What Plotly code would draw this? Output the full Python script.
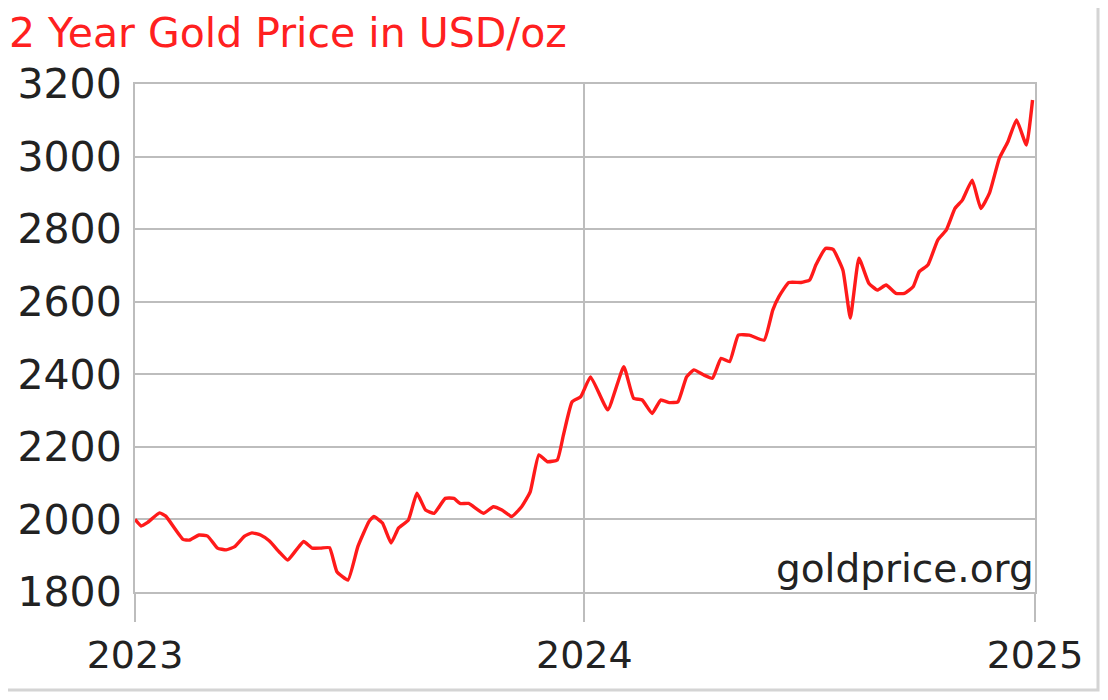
import plotly.graph_objects as go

dates = [
    "2023-01-01", "2023-01-06", "2023-01-11", "2023-01-21", "2023-01-26",
    "2023-02-09", "2023-02-14", "2023-02-22", "2023-03-01", "2023-03-09",
    "2023-03-16", "2023-03-23", "2023-03-31", "2023-04-06", "2023-04-13",
    "2023-04-20", "2023-04-28", "2023-05-05", "2023-05-12", "2023-05-18",
    "2023-05-25", "2023-06-01", "2023-06-08", "2023-06-14", "2023-06-23",
    "2023-07-01", "2023-07-10", "2023-07-14", "2023-07-21", "2023-07-28",
    "2023-08-03", "2023-08-11", "2023-08-18", "2023-08-25", "2023-09-01",
    "2023-09-10", "2023-09-17", "2023-09-22", "2023-09-29", "2023-10-11",
    "2023-10-19", "2023-10-26", "2023-11-03", "2023-11-11", "2023-11-18",
    "2023-11-25", "2023-12-02", "2023-12-10", "2023-12-15", "2023-12-22",
    "2023-12-29", "2024-01-06", "2024-01-20", "2024-02-02", "2024-02-10",
    "2024-02-17", "2024-02-25", "2024-03-03", "2024-03-10", "2024-03-17",
    "2024-03-24", "2024-03-30", "2024-04-07", "2024-04-14", "2024-04-21",
    "2024-04-28", "2024-05-05", "2024-05-14", "2024-05-26", "2024-06-02",
    "2024-06-07", "2024-06-15", "2024-06-25", "2024-07-02", "2024-07-07",
    "2024-07-15", "2024-07-21", "2024-07-29", "2024-08-04", "2024-08-11",
    "2024-08-19", "2024-08-26", "2024-09-02", "2024-09-10", "2024-09-17",
    "2024-09-24", "2024-09-29", "2024-10-06", "2024-10-14", "2024-10-21",
    "2024-10-28", "2024-11-03", "2024-11-11", "2024-11-18", "2024-11-25",
    "2024-12-03", "2024-12-10", "2024-12-17", "2024-12-25", "2024-12-30",
]

prices = [
    2000, 1982, 1991, 2018, 2009,
    1945, 1943, 1957, 1954, 1921,
    1916, 1925, 1954, 1963, 1957,
    1941, 1911, 1888, 1916, 1939,
    1921, 1921, 1922, 1856, 1833,
    1925, 1994, 2008, 1990, 1935,
    1976, 1998, 2072, 2026, 2017,
    2058, 2058, 2044, 2044, 2017,
    2035, 2026, 2008, 2035, 2076,
    2178, 2159, 2164, 2233, 2324,
    2338, 2393, 2302, 2421, 2334,
    2329, 2292, 2329, 2322, 2324,
    2393, 2412, 2398, 2389, 2444,
    2435, 2508, 2508, 2494, 2577,
    2614, 2653, 2653, 2660, 2701,
    2747, 2744, 2687, 2555, 2720,
    2651, 2632, 2646, 2623, 2623,
    2641, 2683, 2701, 2770, 2798,
    2857, 2880, 2935, 2857, 2899,
    2995, 3041, 3101, 3032, 3156,
]

y_ticks = [1800, 2000, 2200, 2400, 2600, 2800, 3000, 3200]
x_ticks = ["2023-01-01", "2024-01-01", "2025-01-01"]
x_tick_labels = ["2023", "2024", "2025"]
title_text = "2 Year Gold Price in USD/oz"
source_text = "goldprice.org"

FONT = "DejaVu Sans"
GRID = "#bdbdbd"

W, H = 1092, 684
L, R, T, B = 127, 65, 76, 100
PW, PH = W - L - R, H - T - B

fig = go.Figure()
fig.add_trace(go.Scatter(
    x=dates, y=prices, mode="lines",
    line=dict(color="#ff1a1a", width=3.4, shape="spline", smoothing=0.4),
    hoverinfo="skip", showlegend=False,
))

fig.update_layout(
    width=W, height=H,
    margin=dict(l=L, r=R, t=T, b=B, autoexpand=False),
    paper_bgcolor="white", plot_bgcolor="white",
    font=dict(family=FONT),
)

fig.update_xaxes(
    type="date", range=["2023-01-01", "2025-01-01"],
    tickvals=x_ticks, ticktext=x_tick_labels,
    tickfont=dict(family=FONT, size=38, color="#222222"),
    showgrid=True, gridcolor=GRID, gridwidth=2,
    ticks="outside", ticklen=28, tickwidth=2, tickcolor=GRID,
    showline=True, linecolor=GRID, linewidth=2, mirror=True,
    zeroline=False, ticklabelstandoff=0, automargin=False,
)
fig.update_yaxes(
    range=[1800, 3200], tickvals=y_ticks,
    tickfont=dict(family=FONT, size=41, color="#222222"),
    showgrid=True, gridcolor=GRID, gridwidth=2,
    ticks="", showline=True, linecolor=GRID, linewidth=2, mirror=True,
    zeroline=False, ticklabelstandoff=3, automargin=False,
)

# title as an annotation placed relative to the page corner
fig.add_annotation(
    text=title_text, xref="paper", yref="paper",
    x=-L / PW, y=(PH + T) / PH, xanchor="left", yanchor="top",
    showarrow=False, borderpad=0, xshift=0, yshift=0,
    font=dict(family=FONT, size=41, color="#ff2020"),
)

fig.add_annotation(
    text=source_text, xref="paper", yref="paper", x=1, y=0,
    xanchor="right", yanchor="bottom", showarrow=False, yshift=0,
    font=dict(family=FONT, size=39, color="#222222"),
    bgcolor="white", borderpad=0,
)

# outer frame (right and bottom edges visible)
fx = (W - 2 - L) / PW
fy = -(H - 2 - (T + PH)) / PH
fig.add_shape(type="rect", xref="paper", yref="paper",
              x0=-(L + 20) / PW, x1=fx, y0=fy, y1=(T + PH + 20) / PH,
              line=dict(color="#d4d4d4", width=3), layer="below")

fig.write_html("out.html")
